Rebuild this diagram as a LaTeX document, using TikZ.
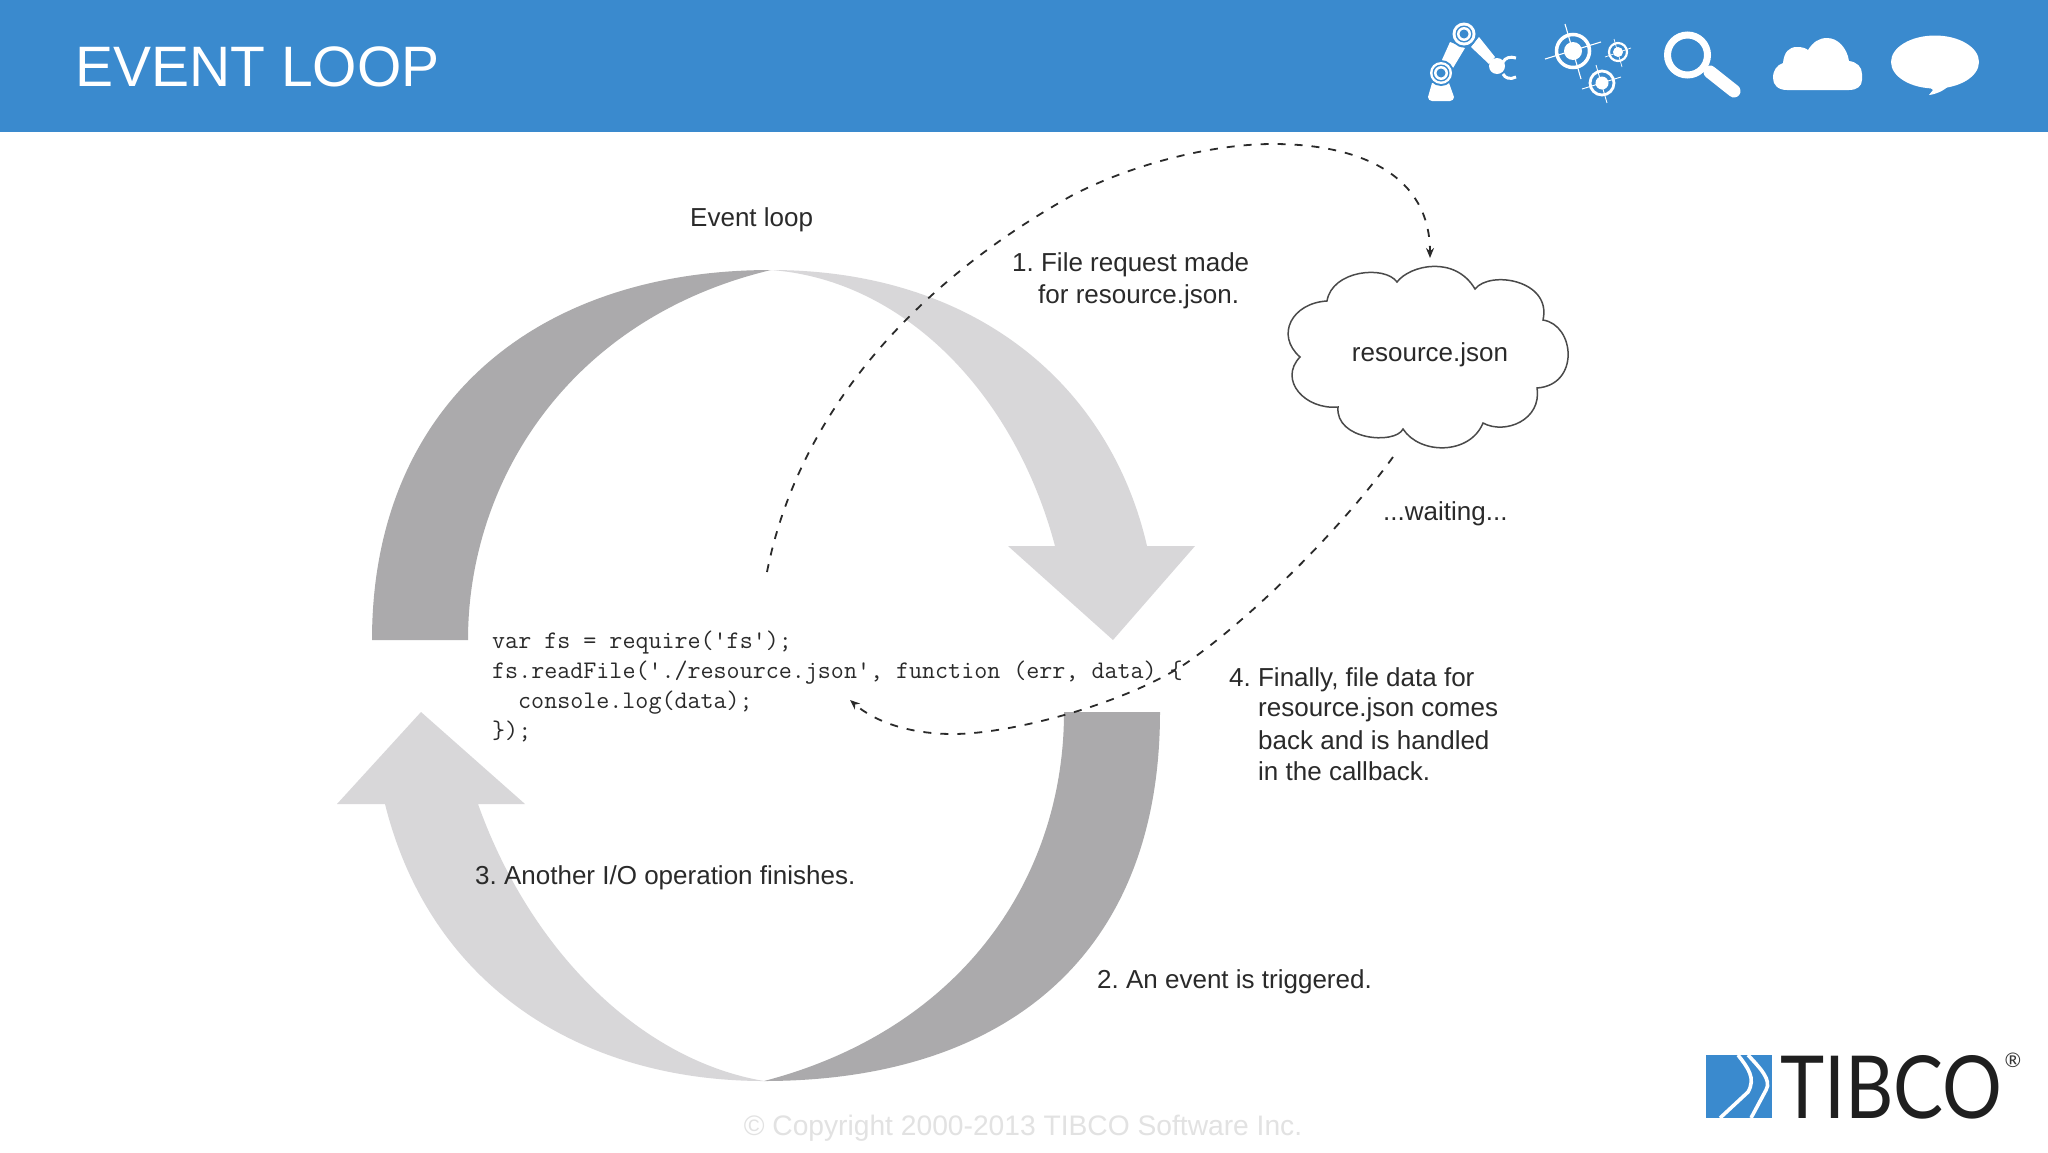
\documentclass[tikz,border=0pt]{standalone}
\usepackage{fontspec}
\setmainfont{Liberation Sans}
\newfontfamily\logofont{Lato}
\usetikzlibrary{arrows.meta}
\definecolor{banner}{HTML}{3A8ACE}
\definecolor{logoblue}{HTML}{3A8ACE}
\definecolor{darkband}{HTML}{ABAAAC}
\definecolor{lightband}{HTML}{D8D7D9}
\definecolor{labelink}{HTML}{2A2A2A}
\definecolor{footgray}{HTML}{E2E2E2}
\newcommand{\px}[1]{\fontsize{#1}{#1}\selectfont}
\frenchspacing
\tikzset{
  x=1pt,y=-1pt,
  label text/.style={anchor=base west,inner sep=0pt,text=labelink,font=\px{26}},
  code text/.style={anchor=base west,inner sep=0pt,text=labelink,font=\ttfamily\px{25.3}},
  dash curve/.style={draw=labelink,line width=1.8pt,dash pattern=on 8pt off 9pt,-{Stealth[length=10pt,width=8pt]}},
  icon/.style={fill=white,draw=none},
  iconhole/.style={fill=banner,draw=none},
  iconline/.style={draw=white,line width=3pt},
  hair/.style={draw=white,line width=1.1pt},
}
\begin{document}
\begin{tikzpicture}
\useasboundingbox (0,0) rectangle (2048,1152);
\fill[white] (0,0) rectangle (2048,1152);
\fill[banner] (0,0) rectangle (2048,132);
\node[anchor=base west,inner sep=0pt,text=white,font=\px{57}] (title) at (75,86) {EVENT LOOP};

% robot icon
\fill[icon] (1432,83) -- (1449,83) -- (1454,97) arc[start angle=0,end angle=90,radius=4] -- (1432,101) arc[start angle=90,end angle=180,radius=4] -- cycle;
\fill[icon] (1450,42) -- (1465,48) -- (1453,68) -- (1441,62) -- cycle;
\fill[icon] (1479,37) -- (1495,57) -- (1489,64) -- (1471,47) -- cycle;
\fill[iconhole] (1441,73) circle[radius=13];
\fill[icon] (1441,73) circle[radius=11];
\fill[iconhole] (1441,73) circle[radius=8.5];
\fill[icon] (1441,73) circle[radius=7];
\fill[iconhole] (1441,73) circle[radius=4.5];
\fill[iconhole] (1464,34) circle[radius=13.5];
\fill[icon] (1464,34) circle[radius=11.5];
\fill[iconhole] (1464,34) circle[radius=8.5];
\fill[icon] (1464,34) circle[radius=7];
\fill[iconhole] (1464,34) circle[radius=4.5];
\fill[icon] (1497,66) circle[radius=8];
\draw[iconline,line width=3pt] (1503,62) .. controls (1505,58) and (1510,56) .. (1516,58);
\draw[iconline,line width=3pt] (1503,74) .. controls (1505,78) and (1510,80) .. (1516,77);

% targets icon
\draw[iconline,line width=3.5pt] (1573,51) circle[radius=16.5];
\fill[icon] (1573,51) circle[radius=9];
\draw[hair] (1565,24) -- (1581,79);
\draw[hair] (1545,59) -- (1601,42);
\draw[iconline,line width=2.2pt] (1618,52) circle[radius=9];
\fill[icon] (1618,52) circle[radius=5];
\draw[hair,line width=.7pt] (1614,39) -- (1622,67);
\draw[hair,line width=.7pt] (1605,57) -- (1631,48);
\draw[iconline,line width=2.8pt] (1602,83) circle[radius=12];
\fill[icon] (1602,83) circle[radius=6.5];
\draw[hair,line width=.9pt] (1596,65) -- (1607,103);
\draw[hair,line width=.9pt] (1582,89) -- (1621,77);

% magnifier icon
\draw[white,line width=7pt] (1687.5,55) circle[radius=20];
\draw[white,line width=13pt,line cap=round] (1710,72) -- (1734,91);

% cloud icon
\fill[icon] (1773,78) .. controls (1773,70) and (1777,65) .. (1783,63) .. controls (1784,52) and (1789,47) .. (1797,47) .. controls (1802,47) and (1805.5,48) .. (1808,50) .. controls (1813,42) and (1819,38) .. (1827,38) .. controls (1838,38) and (1847,48) .. (1849,61) .. controls (1857,62) and (1862,67) .. (1862,74) -- (1862,80) .. controls (1862,86) and (1857,90) .. (1849,90) -- (1787,90) .. controls (1778,90) and (1773,85) .. (1773,78) -- cycle;

% speech icon
\fill[icon] (1935,62) ellipse[x radius=44,y radius=26.5];
\fill[icon] (1928,86) -- (1933,90) -- (1929,95) .. controls (1937,94) and (1943,91) .. (1950,85) -- cycle;

% big cycle
\fill[darkband] (372,640) .. controls (372,410) and (530,270) .. (771,270) .. controls (570,318) and (468,480) .. (468,640) -- cycle;
\fill[lightband] (771,270) .. controls (975,270) and (1110,385) .. (1147,546) -- (1195,546) -- (1113,640) -- (1008,546) -- (1055,546) .. controls (1015,395) and (905,280) .. (771,270) -- cycle;
\fill[darkband] (1160,712) .. controls (1160,960) and (1000,1081) .. (764,1081) .. controls (960,1030) and (1064,880) .. (1064,712) -- cycle;
\fill[lightband] (764,1081) .. controls (580,1081) and (430,985) .. (385,804) -- (337,804) -- (421,712) -- (525,804) -- (478,804) .. controls (530,950) and (640,1060) .. (764,1081) -- cycle;

% cloud
\node[inner sep=0pt,anchor=center,text=labelink,font=\px{26}] (res) at (1430,355) {resource.json};
\draw[draw=labelink!85,line width=1.5pt] (1397,282) .. controls (1410,265) and (1455,255) .. (1475,289)
 .. controls (1490,270) and (1552,280) .. (1543,320)
 .. controls (1575,325) and (1580,385) .. (1537,388)
 .. controls (1542,420) and (1505,435) .. (1483,423)
 .. controls (1470,455) and (1420,455) .. (1403,429)
 .. controls (1395,445) and (1335,440) .. (1338,407)
 .. controls (1305,410) and (1278,380) .. (1300,357)
 .. controls (1275,335) and (1292,303) .. (1327,301)
 .. controls (1332,270) and (1385,265) .. cycle;

% code
\node[code text] (c1) at (492,648) {var fs = require('fs');};
\node[code text] (c2) at (492,678) {fs.readFile('./resource.json', function (err, data) \{};
\node[code text] (c3) at (518,708) {console.log(data);};
\node[code text] (c4) at (492,738) {\});};

% labels
\node[label text] (evl) at (690,226) {Event loop};
\node[label text] (l1a) at (1012,271) {1. File request made};
\node[label text] (l1b) at (1038,303) {for resource.json.};
\node[label text] (lw) at (1383,520) {...waiting...};
\node[label text] (l4a) at (1229,686) {4. Finally, file data for};
\node[label text] (l4b) at (1258,716) {resource.json comes};
\node[label text] (l4c) at (1258,749) {back and is handled};
\node[label text] (l4d) at (1258,780) {in the callback.};
\node[label text] (l3) at (475,884) {3. Another I/O operation finishes.};
\node[label text] (l2) at (1097,988) {2. An event is triggered.};

% dashed connectors
\coordinate (s1) at (767,572);
\coordinate (e1) at (1430,258);
\coordinate (s2) at (1393,457);
\coordinate (e2) at (850,700);
\draw[dash curve] (s1) .. controls (795,430) and (895,295) .. (1071,196) .. controls (1130,165) and (1210,144) .. (1273,144) .. controls (1360,144) and (1430,175) .. (e1);
\draw[dash curve] (s2) .. controls (1340,530) and (1250,620) .. (1182,666) .. controls (1120,705) and (1010,734) .. (953,734) .. controls (910,734) and (875,722) .. (e2);

% footer
\node[inner sep=0pt,text=footgray,font=\px{28.2}] (foot) at (1023,1128) {© Copyright 2000-2013 TIBCO Software Inc.};

% logo
\fill[logoblue] (1706,1055) rectangle (1772,1118);
\draw[white,line width=3.6pt] (1738,1055) .. controls (1748,1068) and (1756,1078) .. (1748,1092) -- (1720,1118);
\draw[white,line width=3.6pt] (1748,1055) .. controls (1760,1068) and (1772,1080) .. (1766,1090) -- (1751,1118);
\node[inner sep=0pt,anchor=base west,font=\logofont\px{87},text=black!88] (tibco) at (1780,1118) {\scalebox{.86}[1]{TIBCO}};
\node[inner sep=0pt,font=\logofont\px{20},text=black!80] (reg) at (2013,1060) {®};
\end{tikzpicture}
\end{document}
